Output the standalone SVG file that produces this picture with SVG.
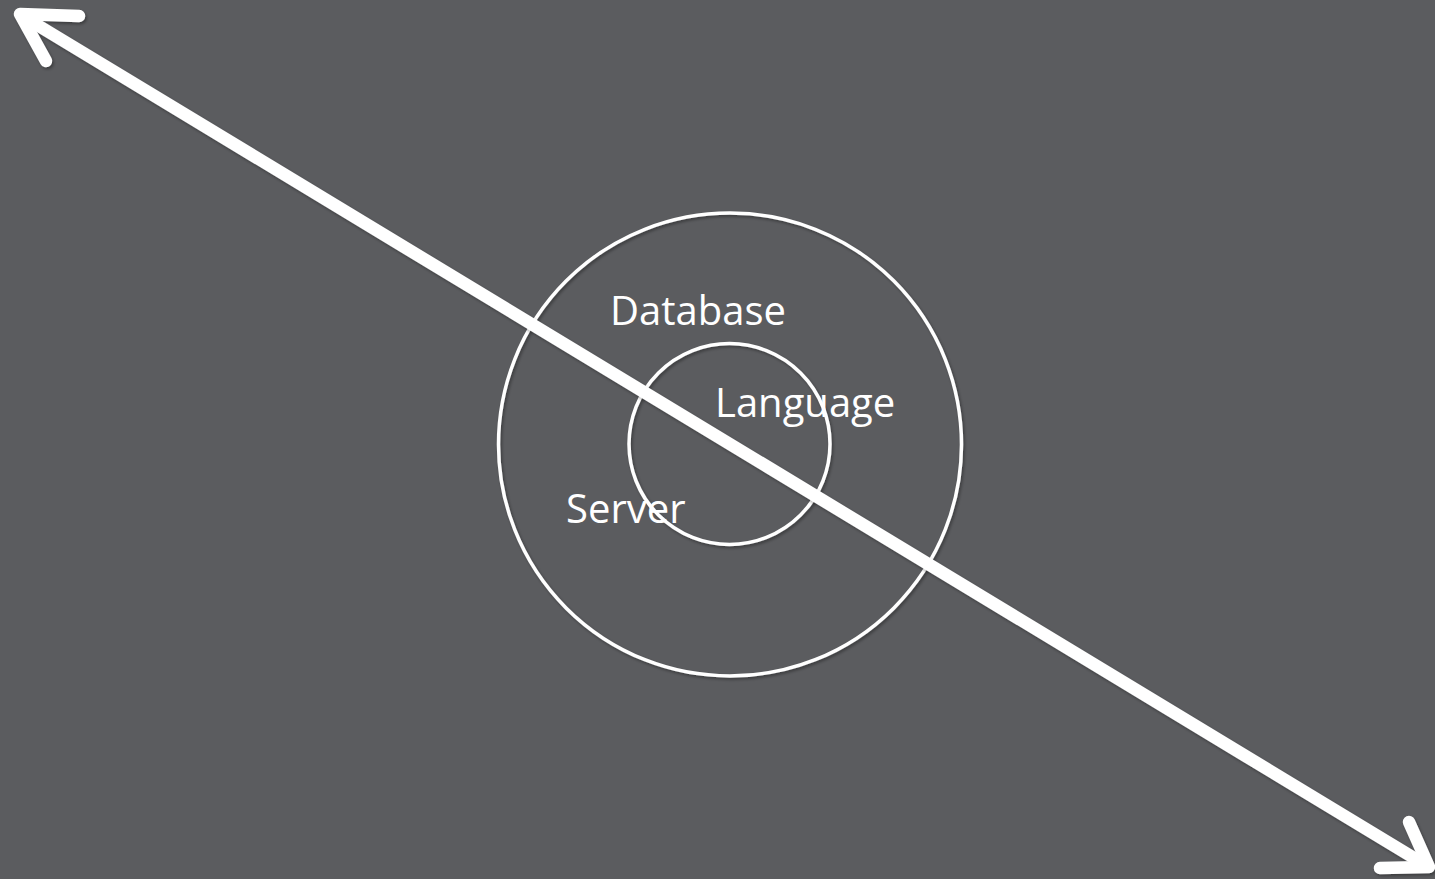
<svg xmlns="http://www.w3.org/2000/svg" width="1435" height="879" viewBox="0 0 1435 879">
<style>
.ring{fill:none;stroke:#ffffff;stroke-width:3.5}
.lbl{font-family:"Open Sans","Noto Sans",sans-serif;font-size:40px;fill:#ffffff}
.arrow{fill:none;stroke:#ffffff;stroke-width:12.5;stroke-linecap:round;stroke-linejoin:round}
</style>
<defs>
<filter id="sh" x="-5%" y="-5%" width="110%" height="110%">
<feDropShadow dx="1.5" dy="2" stdDeviation="1.5" flood-color="#000000" flood-opacity="0.35"/>
</filter>
</defs>
<rect width="1435" height="879" fill="#5b5c5f"/>
<g id="database">
<circle class="ring" cx="730" cy="444.5" r="231.5" filter="url(#sh)"/>
<text class="lbl" x="610" y="325">Database</text>
</g>
<g id="language">
<circle class="ring" cx="729.5" cy="444" r="100.5" filter="url(#sh)"/>
<text class="lbl" x="715" y="417">Language</text>
</g>
<g id="server">
<text class="lbl" x="566" y="523">Server</text>
</g>
<g id="connectors" filter="url(#sh)">
<path class="arrow" d="M24,17 L1424,864"/>
<path class="arrow" d="M79,16 L20,14 L46,61"/>
<path class="arrow" d="M1380,868 L1429,867 L1409,822"/>
</g>
</svg>
